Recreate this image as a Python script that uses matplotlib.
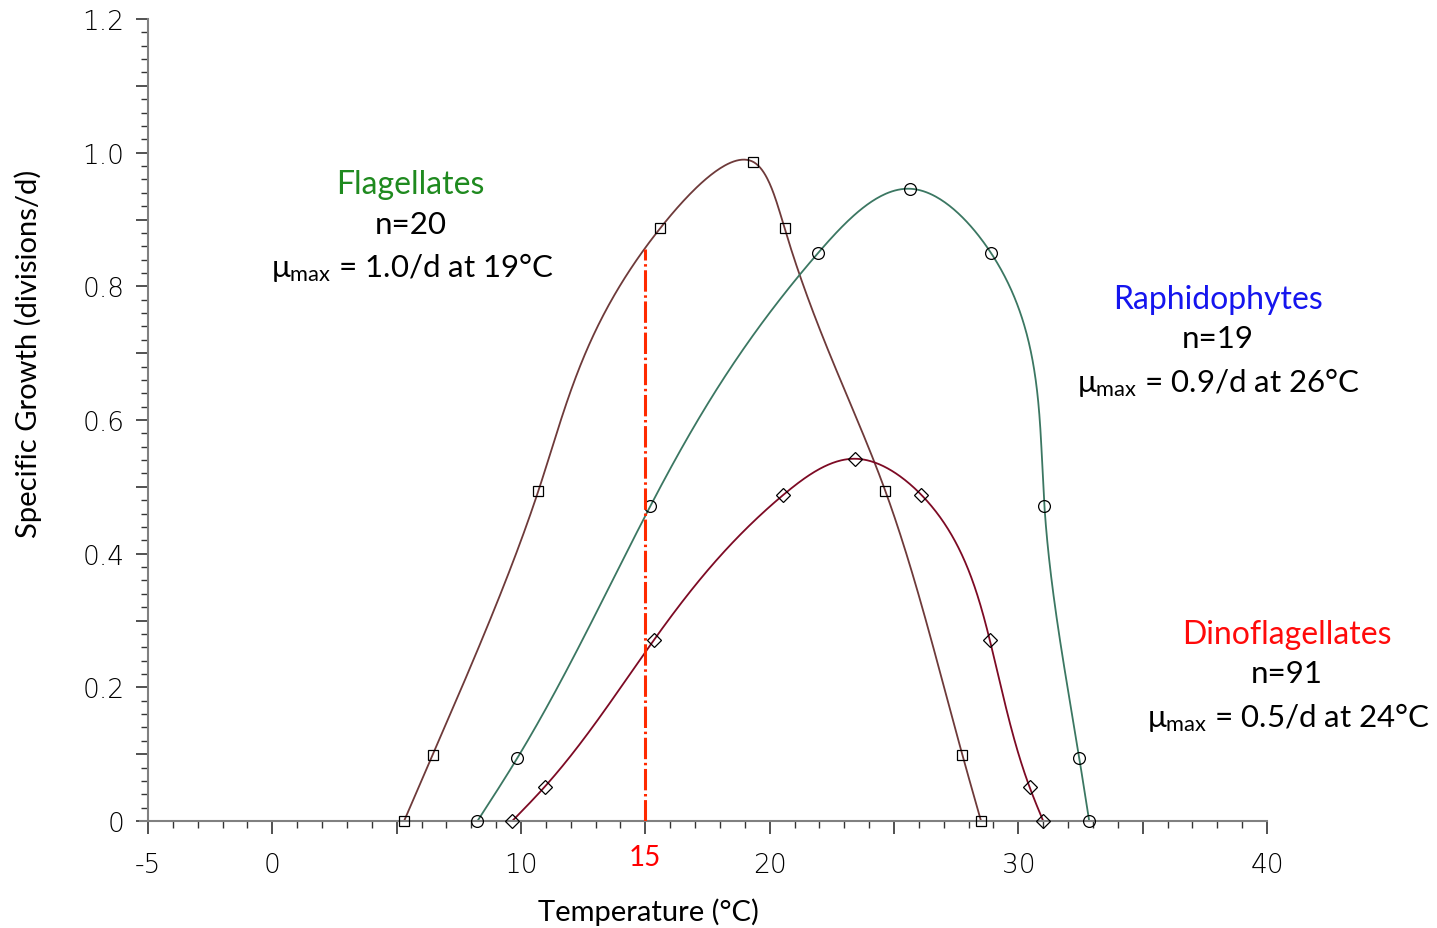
import numpy as np
import matplotlib
matplotlib.use("Agg")
import matplotlib.pyplot as plt
from matplotlib.ticker import MultipleLocator, FixedLocator, FixedFormatter

# growth data (temperature in C, growth in divisions/d)
flag_t = [5.3, 6.45, 10.7, 15.6, 19.35, 20.6, 24.65, 27.75, 28.5]
flag_mu = [0.0, 0.099, 0.494, 0.887, 0.986, 0.887, 0.494, 0.099, 0.0]

raph_t = [8.25, 9.85, 15.2, 21.95, 25.65, 28.9, 31.05, 32.45, 32.85]
raph_mu = [0.0, 0.094, 0.471, 0.85, 0.946, 0.85, 0.471, 0.094, 0.0]

dino_t = [9.65, 10.95, 15.35, 20.55, 23.45, 26.1, 28.85, 30.45, 31.0]
dino_mu = [0.0, 0.051, 0.271, 0.488, 0.542, 0.488, 0.271, 0.051, 0.0]

ref_t = 15
ref_mu = 0.856

xtick_vals = [-5, 0, 10, 20, 30, 40]
ytick_vals = [0, 0.2, 0.4, 0.6, 0.8, 1.0, 1.2]
ytick_labels = ["0", "0.2", "0.4", "0.6", "0.8", "1.0", "1.2"]

TXT = ["Lato", "DejaVu Sans"]
TICK = ["DejaVu Sans"]


def natural_spline(s, v, ss):
    s = np.asarray(s, float)
    v = np.asarray(v, float)
    h = np.diff(s)
    k = len(s)
    A = np.zeros((k, k))
    b = np.zeros(k)
    A[0, 0] = A[-1, -1] = 1
    for i in range(1, k - 1):
        A[i, i - 1] = h[i - 1]
        A[i, i] = 2 * (h[i - 1] + h[i])
        A[i, i + 1] = h[i]
        b[i] = 6 * ((v[i + 1] - v[i]) / h[i] - (v[i] - v[i - 1]) / h[i - 1])
    M = np.linalg.solve(A, b)
    j = np.clip(np.searchsorted(s, ss) - 1, 0, k - 2)
    t0 = s[j + 1] - ss
    t1 = ss - s[j]
    hj = h[j]
    return (M[j] * t0 ** 3 + M[j + 1] * t1 ** 3) / (6 * hj) \
        + (v[j] / hj - M[j] * hj / 6) * t0 + (v[j + 1] / hj - M[j + 1] * hj / 6) * t1


def smooth_line(x, y, sy=26.87, n=800):
    # parametric spline, chord length measured in roughly square screen units
    x = np.asarray(x, float)
    y = np.asarray(y, float)
    d = np.hypot(np.diff(x), np.diff(y) * sy)
    s = np.concatenate([[0], np.cumsum(d)])
    ss = np.linspace(0, s[-1], n)
    return natural_spline(s, x, ss), natural_spline(s, y, ss)


fig = plt.figure(figsize=(14.37, 9.29), dpi=100)
ax = fig.add_axes([140.5 / 1437, 1 - 822 / 929, (1267 - 140.5) / 1437, (822 - 20) / 929])
ax.set_xlim(-5.3, 40)
ax.set_ylim(0, 1.2)

series = [
    (flag_t, flag_mu, "#6e3a3a", "s", 7.5),
    (raph_t, raph_mu, "#3b7762", "o", 8.5),
    (dino_t, dino_mu, "#7d0a24", "D", 6.8),
]
for t, mu, col, mk, ms in series:
    xs, ys = smooth_line(t, mu)
    ax.plot(xs, ys, color=col, lw=1.3, zorder=2)
    ax.plot(t, mu, ls="none", marker=mk, ms=ms, mfc="none",
            mec="black", mew=0.9, zorder=3, clip_on=False)

ax.plot([ref_t, ref_t], [0, ref_mu], color="#ff2a00", lw=2.2,
        ls=(0, (7, 1.2, 0.8, 1.2)), zorder=4)

# axes styling
for s in ["top", "right"]:
    ax.spines[s].set_visible(False)
ax.spines["left"].set_position(("data", -5))
ax.spines["left"].set_bounds(0, 1.2)
for s in ["left", "bottom"]:
    ax.spines[s].set_color("#808080")
    ax.spines[s].set_linewidth(1.5)

ax.xaxis.set_major_locator(FixedLocator(list(range(-5, 41, 5))))
ax.xaxis.set_major_formatter(FixedFormatter([str(v) if v in xtick_vals else "" for v in range(-5, 41, 5)]))
ax.xaxis.set_minor_locator(MultipleLocator(1))
ax.yaxis.set_minor_locator(MultipleLocator(0.02))
ax.set_yticks(np.arange(0, 1.21, 0.1))
ax.set_yticklabels([ytick_labels[ytick_vals.index(round(v, 1))] if round(v, 1) in ytick_vals else ""
                    for v in np.arange(0, 1.21, 0.1)])

ax.tick_params(axis="both", which="major", length=9, width=1.2, color="#333333",
               labelsize=19)
ax.tick_params(axis="x", which="major", pad=13)
ax.tick_params(axis="y", which="major", pad=8)
ax.tick_params(axis="both", which="minor", length=5, width=1.0, color="#333333")
for lab in ax.get_xticklabels() + ax.get_yticklabels():
    lab.set_fontfamily(TICK)
    lab.set_fontweight("light")

ax.text(ref_t, -0.054, "15", color="#ff0000", fontsize=20, ha="center", va="center",
        family=TXT)

ax.set_xlabel("Temperature (°C)", fontsize=21, family=TXT)
ax.set_ylabel("Specific Growth (divisions/d)", fontsize=21, family=TXT)
ax.xaxis.label.set_va("center")
ax.yaxis.label.set_va("center")
ax.xaxis.set_label_coords((648 - 140.5) / (1267 - 140.5), -(912 - 822) / 802)
ax.yaxis.set_label_coords((28 - 140.5) / (1267 - 140.5), (822 - 354) / 802)

notes = [
    (5.57, 0.953, "Flagellates", "#1f8a1f", "n=20", "1.0/d at 19°C"),
    (38.02, 0.781, "Raphidophytes", "#1515ee", "n=19", "0.9/d at 26°C"),
    (40.8, 0.280, "Dinoflagellates", "#ff0a0a", "n=91", "0.5/d at 24°C"),
]
for x, y, name, col, n, mx in notes:
    ax.text(x, y, name, color=col, fontsize=23, ha="center", va="center", family=TXT)
    ax.text(x, y - 0.059, n, color="black", fontsize=22.5, ha="center", va="center", family=TXT)
    ax.text(x + 0.05, y - 0.124, r"$\mathregular{\mu_{max}}$ = " + mx, color="black",
            fontsize=22.5, ha="center", va="center", family=TXT)

fig.savefig("out.png", dpi=100)
